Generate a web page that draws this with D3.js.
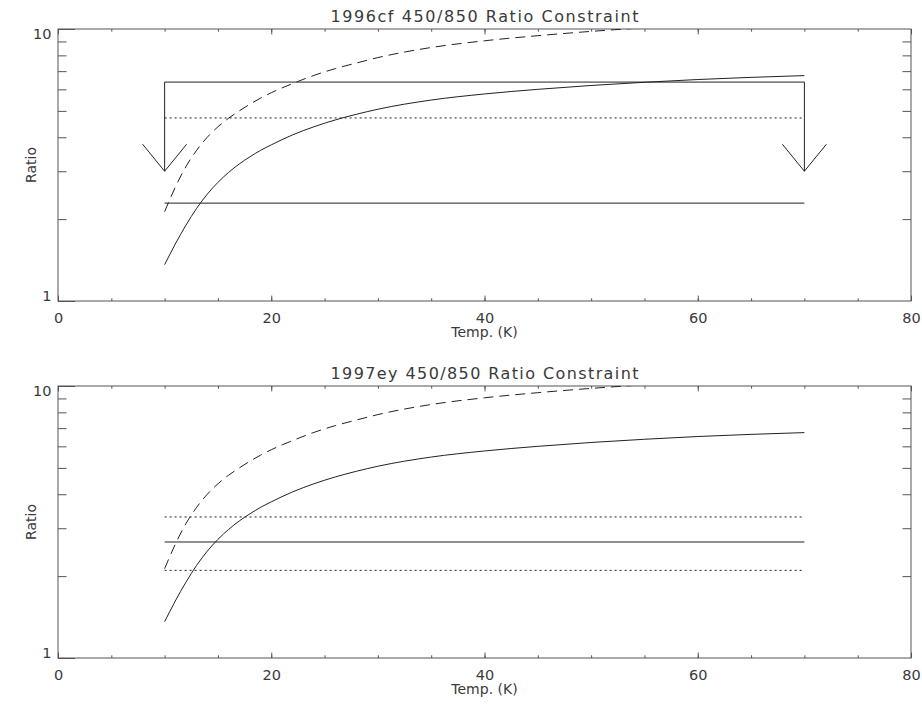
<html>
<head>
<script src="https://d3js.org/d3.v7.min.js"></script>
<style>
body { margin: 0; background: #fff; }
svg text { font-family: "DejaVu Sans", Arial, sans-serif; fill: #3a3a3a; }
.frame { fill: none; stroke: #555; stroke-width: 1px; }
.tick line { stroke: #555; }
.curve { fill: none; stroke: #222; stroke-width: 1px; }
</style>
</head>
<body>
<svg id="chart"></svg>
<script>
// temperature grid (K) and the two model ratio curves
var temps        = [10, 11, 12, 13, 14, 15, 16, 17, 18, 19, 20, 22, 24, 26, 28, 30, 35, 40, 45, 50, 55, 60, 65, 70];
var ratioSolid   = [1.36, 1.62, 1.90, 2.19, 2.47, 2.73, 2.97, 3.19, 3.39, 3.58, 3.75, 4.08, 4.37, 4.63, 4.86, 5.07, 5.48, 5.77, 6.00, 6.20, 6.37, 6.52, 6.64, 6.74];
var ratioDashed  = [2.13, 2.62, 3.12, 3.58, 4.00, 4.37, 4.70, 5.00, 5.29, 5.57, 5.83, 6.30, 6.75, 7.15, 7.50, 7.85, 8.55, 9.05, 9.45, 9.80, 10.10, 10.35, 10.55, 10.75];

// observed constraints
var titles   = ["1996cf 450/850 Ratio Constraint", "1997ey 450/850 Ratio Constraint"];
var span     = [10, 70];
var cfLimit  = 6.38, cfArrowTip = 3.0, cfDotted = 4.71, cfLow = 2.29;
var eyValue  = 2.67, eyUpper = 3.3, eyLower = 2.1;

var xMajor = [0, 20, 40, 60, 80];
var xMinor = d3.range(0, 81, 5);
var yMajor = [1, 10];
var yMinor = [2, 3, 4, 5, 6, 7, 8, 9];

var W = 922, H = 704;
var svg = d3.select("#chart").attr("width", W).attr("height", H);

var left = 58, right = 911, ph = 272;
var tops = [29, 386];

var x = d3.scaleLinear().domain([0, 80]).range([left, right]);

function panel(i) {
    var top = tops[i];
    var y = d3.scaleLog().domain([1, 10]).range([top + ph, top]);
    var g = svg.append("g");

    g.append("clipPath").attr("id", "clip" + i)
        .append("rect").attr("x", left).attr("y", top).attr("width", right - left).attr("height", ph);

    // ticks, all pointing inward
    g.append("g").attr("transform", "translate(0," + (top + ph) + ")")
        .call(d3.axisBottom(x).tickValues(xMinor).tickFormat("").tickSize(-2.7));
    g.append("g").attr("transform", "translate(0," + (top + ph) + ")")
        .call(d3.axisBottom(x).tickValues(xMajor).tickFormat(d3.format("d")).tickSize(-5.4).tickPadding(11.5))
        .selectAll("text").attr("font-size", 14.5);
    g.append("g").attr("transform", "translate(0," + top + ")")
        .call(d3.axisTop(x).tickValues(xMinor).tickFormat("").tickSize(-2.7));
    g.append("g").attr("transform", "translate(0," + top + ")")
        .call(d3.axisTop(x).tickValues(xMajor).tickFormat("").tickSize(-5.4));
    g.append("g").attr("transform", "translate(" + left + ",0)")
        .call(d3.axisLeft(y).tickValues(yMinor).tickFormat("").tickSize(-8.5));
    var yl = g.append("g").attr("transform", "translate(" + left + ",0)")
        .call(d3.axisLeft(y).tickValues(yMajor).tickFormat(d3.format("d")).tickSize(-17).tickPadding(6.5));
    yl.selectAll("text").attr("font-size", 14.5)
        .attr("dy", function(d) { return d == 10 ? "0.68em" : "-0.04em"; });
    g.append("g").attr("transform", "translate(" + right + ",0)")
        .call(d3.axisRight(y).tickValues(yMinor).tickFormat("").tickSize(-8.5));
    g.selectAll(".domain").remove();

    g.append("rect").attr("class", "frame")
        .attr("x", left).attr("y", top).attr("width", right - left).attr("height", ph);

    // titles
    g.append("text").attr("x", (left + right) / 2).attr("y", top - 7)
        .attr("text-anchor", "middle").attr("font-size", 16)
        .attr("textLength", 308).attr("lengthAdjust", "spacing")
        .text(titles[i]);
    g.append("text").attr("x", (left + right) / 2).attr("y", top + ph + 36)
        .attr("text-anchor", "middle").attr("font-size", 14)
        .text("Temp. (K)");
    g.append("text").attr("transform", "translate(36," + (top + ph / 2) + ") rotate(-90)")
        .attr("text-anchor", "middle").attr("font-size", 14)
        .text("Ratio");

    var plot = g.append("g").attr("clip-path", "url(#clip" + i + ")");
    var line = d3.line().curve(d3.curveMonotoneX)
        .x(function(d) { return x(d[0]); }).y(function(d) { return y(d[1]); });

    plot.append("path").attr("class", "curve").attr("d", line(d3.zip(temps, ratioSolid)));
    plot.append("path").attr("class", "curve").attr("stroke-dasharray", "10,6")
        .attr("d", line(d3.zip(temps, ratioDashed)));

    function hline(v, dash) {
        plot.append("line").attr("class", "curve")
            .attr("x1", x(span[0])).attr("x2", x(span[1]))
            .attr("y1", y(v)).attr("y2", y(v))
            .attr("stroke-dasharray", dash);
    }

    if (i == 0) {
        hline(cfLimit, null);
        hline(cfDotted, "2,3");
        hline(cfLow, null);
        span.forEach(function(t) {
            var tx = x(t), ty = y(cfArrowTip);
            plot.append("path").attr("class", "curve")
                .attr("d", "M" + tx + "," + y(cfLimit) + "V" + ty);
            plot.append("path").attr("class", "curve")
                .attr("d", "M" + (tx - 22) + "," + (ty - 27) + "L" + tx + "," + ty + "L" + (tx + 22) + "," + (ty - 27));
        });
    } else {
        hline(eyUpper, "2,3");
        hline(eyValue, null);
        hline(eyLower, "2,3");
    }
}

panel(0);
panel(1);
</script>
</body>
</html>
